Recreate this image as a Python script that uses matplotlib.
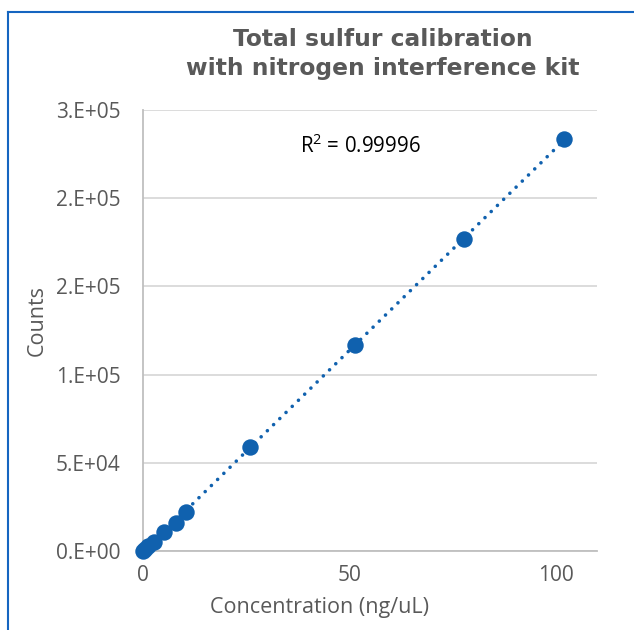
import numpy as np
import matplotlib
matplotlib.use("Agg")
import matplotlib.pyplot as plt
from matplotlib.lines import Line2D

# ---- data ----
concentration = [0, 0.5, 1.3, 2.6, 5.2, 7.9, 10.4, 26.0, 51.4, 77.8, 102.0]
counts = [0, 1100, 2900, 5100, 10600, 16000, 21900, 59100, 116800, 176900, 233400]
y_ticks = [0, 50000, 100000, 150000, 200000, 250000]
y_tick_labels = ["0.E+00", "5.E+04", "1.E+05", "2.E+05", "2.E+05", "3.E+05"]
x_ticks = [0, 50, 100]
x_tick_labels = ["0", "50", "100"]
title = "Total sulfur calibration\nwith nitrogen interference kit"
x_label = "Concentration (ng/uL)"
y_label = "Counts"
r2_text = "R$^2$ = 0.99996"

plt.rcParams['font.family'] = ['Open Sans', 'DejaVu Sans']
plt.rcParams['mathtext.fontset'] = 'custom'
plt.rcParams['mathtext.rm'] = 'Open Sans'

blue = '#1061AE'
grey_text = '#595959'

W, H = 634, 630
fig = plt.figure(figsize=(W/100, H/100), dpi=100)
ax = fig.add_axes([143/W, 1-551/H, (597-143)/W, (551-110)/H])

x = np.array(concentration)
y = np.array(counts)
coef = np.polyfit(x, y, 1)
xx = np.array([0, max(concentration)])
ax.plot(xx, np.polyval(coef, xx), color=blue, lw=2.6,
        dashes=(0.01, 2.4), dash_capstyle='round', zorder=2)
ax.scatter(x, y, s=140, color=blue, zorder=3, linewidths=0, clip_on=False)

ax.set_xlim(0, 110)
ax.set_ylim(0, 250000)
ax.set_yticks(y_ticks)
ax.set_yticklabels(y_tick_labels)
ax.set_xticks(x_ticks)
ax.set_xticklabels(x_tick_labels)
ax.tick_params(length=0, labelsize=15, labelcolor=grey_text)
ax.tick_params(axis='y', pad=16)
ax.tick_params(axis='x', pad=10)
ax.grid(axis='y', color='#d9d9d9', lw=1.3)
ax.set_axisbelow(True)
for s in ['top', 'right']:
    ax.spines[s].set_visible(False)
for s in ['left', 'bottom']:
    ax.spines[s].set_color('#bfbfbf')
    ax.spines[s].set_linewidth(1.3)

ax.set_xlabel(x_label, fontsize=15.5, color=grey_text)
ax.set_ylabel(y_label, fontsize=15.5, color=grey_text)
ax.xaxis.set_label_coords((320-143)/(597-143), (551-607)/(551-110))
ax.yaxis.set_label_coords((37-143)/(597-143), (551-320)/(551-110))
ax.xaxis.label.set_va('center')
ax.yaxis.label.set_va('center')

fig.text(383/W, 1-54/H, title, ha='center', va='center', fontsize=16.8,
         fontweight='bold', color=grey_text, family='DejaVu Sans', linespacing=1.38)
fig.text(300/W, 1-146/H, r2_text, ha='left', va='center', fontsize=14.8, color='black')

# blue chart frame (cropped on right/bottom)
fig.add_artist(Line2D([8/W, 8/W], [0, 1-12/H], transform=fig.transFigure,
                      color='#1565C0', lw=1.5))
fig.add_artist(Line2D([8/W, 1], [1-12/H, 1-12/H], transform=fig.transFigure,
                      color='#1565C0', lw=1.5))

fig.savefig('out.png', dpi=100)
